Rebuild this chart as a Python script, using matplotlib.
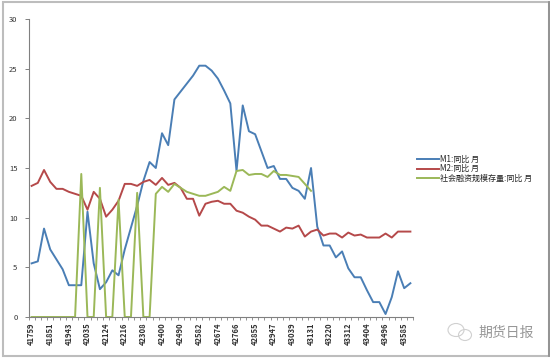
#!/usr/bin/python
"""
M1, M2 and social financing stock, year on year
"""
import numpy as np
import matplotlib
matplotlib.use("Agg")
import matplotlib.pyplot as plt
from matplotlib.patches import Rectangle, Ellipse

plt.rcParams['font.family'] = ['Noto Sans CJK SC', 'DejaVu Sans']

tick_labels = ["41759", "41851", "41943", "42035", "42124", "42216", "42308",
               "42400", "42490", "42582", "42674", "42766", "42855", "42947",
               "43039", "43131", "43220", "43312", "43404", "43496", "43585"]
legend_labels = ["M1:同比 月", "M2:同比 月", "社会融资规模存量:同比 月"]
colors = ["#4a7eb5", "#b5494a", "#9bb858"]

m1 = [5.4, 5.6, 8.9, 6.8, 5.8, 4.8, 3.2, 3.2, 3.2, 10.6, 5.4, 2.8, 3.5, 4.7, 4.2,
      6.8, 9.0, 11.2, 13.7, 15.6, 15.0, 18.5, 17.3, 21.9, 22.7, 23.5, 24.3, 25.3,
      25.3, 24.8, 24.0, 22.8, 21.5, 14.7, 21.3, 18.7, 18.4, 16.7, 15.0, 15.2, 13.9,
      13.9, 13.0, 12.7, 11.9, 15.0, 9.1, 7.2, 7.2, 6.0, 6.6, 4.9, 4.0, 4.0, 2.7,
      1.5, 1.5, 0.3, 2.0, 4.6, 2.9, 3.4]
m2 = [13.2, 13.5, 14.8, 13.6, 12.9, 12.9, 12.6, 12.4, 12.2, 10.8, 12.6, 11.9, 10.1,
      10.8, 11.7, 13.4, 13.4, 13.2, 13.6, 13.8, 13.3, 14.0, 13.3, 13.5, 13.0, 11.9,
      11.9, 10.2, 11.4, 11.6, 11.7, 11.4, 11.4, 10.7, 10.5, 10.1, 9.8, 9.2, 9.2, 8.9,
      8.6, 9.0, 8.9, 9.2, 8.1, 8.6, 8.8, 8.2, 8.4, 8.4, 8.0, 8.5, 8.2, 8.3, 8.0, 8.0,
      8.0, 8.4, 8.0, 8.6, 8.6, 8.6]
# stops after 46 months in the source sheet
sf = [0, 0, 0, 0, 0, 0, 0, 0, 14.4, 0, 0, 13.0, 0, 0, 11.8, 0, 0, 12.5, 0, 0, 12.4,
      13.1, 12.6, 13.4, 13.0, 12.6, 12.4, 12.2, 12.2, 12.4, 12.6, 13.1, 12.7, 14.7,
      14.8, 14.3, 14.4, 14.4, 14.1, 14.7, 14.3, 14.3, 14.2, 14.1, 13.4, 12.7]

W, H = 550, 358


def main():
    fig = plt.figure(figsize=(W / 100, H / 100), dpi=100, facecolor="white")
    # outer chart frame
    fig.add_artist(Rectangle((2.5 / W, 1 - 355.5 / H), 546 / W, 354 / H, transform=fig.transFigure,
                             fill=False, edgecolor="#bdbdbd", linewidth=1.5))
    fig.add_artist(plt.Line2D([549 / W, 549 / W], [1 - 356 / H, 1 - 2 / H], color="#8c8c8c", linewidth=1.2))

    ax = fig.add_axes([28.5 / W, 1 - 317 / H, 385 / W, 298 / H])
    x = np.arange(len(m1))
    ax.plot(x, m1, color=colors[0], linewidth=1.4)
    ax.plot(x, m2, color=colors[1], linewidth=1.4)
    ax.plot(np.arange(len(sf)), sf, color=colors[2], linewidth=1.4, clip_on=False)

    ax.set_xlim(-0.5, len(m1) - 0.5)
    ax.set_ylim(0, 30)
    ax.set_yticks(np.arange(0, 31, 5))
    ax.set_xticks(np.arange(0, len(m1), 3))
    ax.set_xticklabels(tick_labels, rotation=90, fontsize=5.5, fontweight="bold", color="#333333")
    ax.set_xticks(np.arange(-0.5, len(m1), 1), minor=True)
    ax.tick_params(axis="x", which="major", length=0, pad=4)
    ax.tick_params(axis="x", which="minor", length=2.5, width=0.6, color="#808080")
    ax.tick_params(axis="y", length=3, width=0.7, color="#808080", labelsize=5.5, labelcolor="#333333", pad=5)
    for side in ["top", "right"]:
        ax.spines[side].set_visible(False)
    for side in ["left", "bottom"]:
        ax.spines[side].set_color("#808080")
        ax.spines[side].set_linewidth(0.8)

    # legend rows placed by hand, the CJK font makes ax.legend spacing uneven
    for row, label, color in zip([159, 168.5, 178], legend_labels, colors):
        fig.add_artist(plt.Line2D([417 / W, 439 / W], [1 - row / H, 1 - row / H], color=color, linewidth=1.4))
        fig.text(439.5 / W, 1 - row / H, label, fontsize=5.8, color="#222222", va="center", ha="left")

    # watermark
    fig.text(478 / W, 1 - 333 / H, "期货日报", fontsize=10, color="#979797", va="center", ha="left")
    for cx, cy, rx, ry in [(456, 330, 8, 6.5), (465, 335, 6.5, 5.5)]:
        fig.add_artist(Ellipse((cx / W, 1 - cy / H), 2 * rx / W, 2 * ry / H, transform=fig.transFigure,
                               fill=False, edgecolor="#d0d0d0", linewidth=0.8))
    fig.savefig("out.png", dpi=100)


if __name__ == "__main__":
    main()
